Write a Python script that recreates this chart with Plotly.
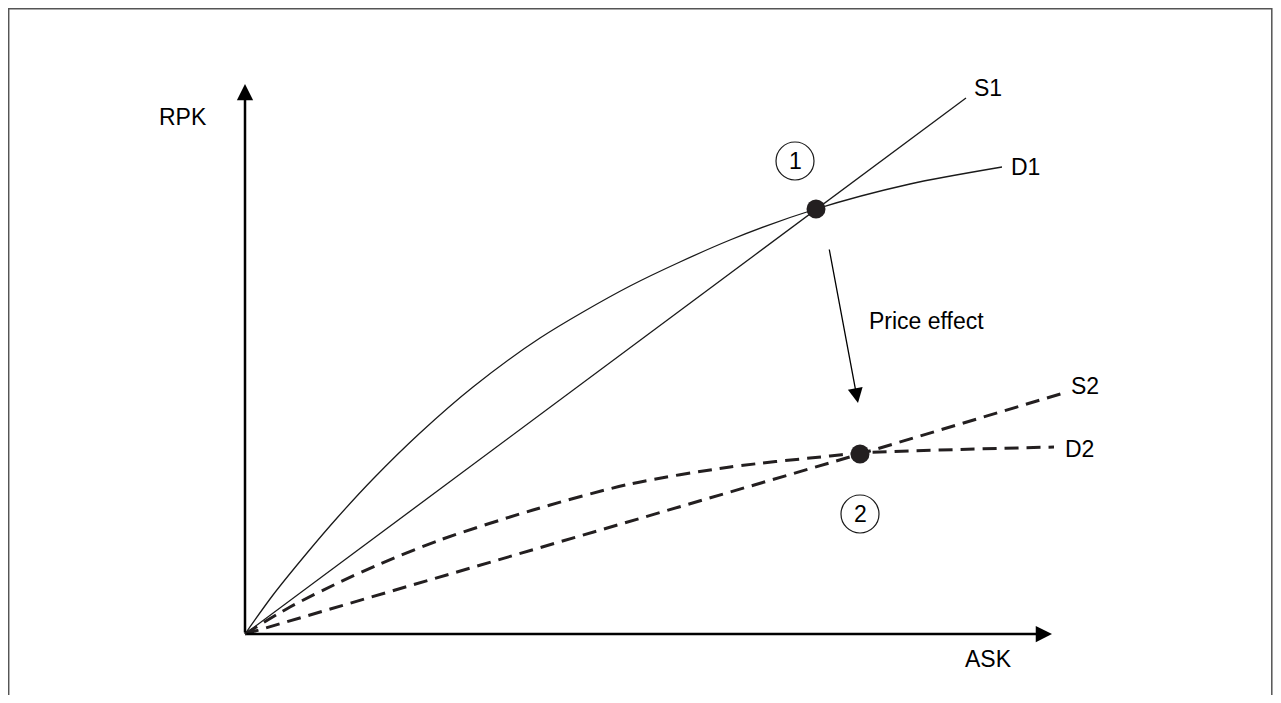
import plotly.graph_objects as go

# ---- data (ASK on x, RPK on y; arbitrary units, origin at 0,0) ----
ask_d1 = [0, 28, 62, 92, 128, 175, 228, 295, 385, 485, 571, 665, 757]
rpk_d1 = [0, 39, 81, 116, 155, 201, 247, 296, 348, 394, 425, 450, 467]

ask_s1 = [0, 571, 721]
rpk_s1 = [0, 425, 536]

ask_d2 = [0, 45, 95, 135, 195, 288, 385, 485, 585, 615, 809]
rpk_d2 = [0, 27, 52, 70, 94, 124, 150, 167, 178, 181, 187]

ask_s2 = [0, 615, 822]
rpk_s2 = [0, 180, 242]

eq_ask = [571, 615]
eq_rpk = [425, 180]

axis_x_max = 807
axis_y_max = 550

font = "Liberation Sans, Arial, sans-serif"
ink = "#1a1a1a"

fig = go.Figure()

fig.add_trace(go.Scatter(x=ask_d1, y=rpk_d1, mode="lines", line=dict(color=ink, width=1.3, shape="spline", smoothing=0.8), hoverinfo="skip"))
fig.add_trace(go.Scatter(x=ask_s1, y=rpk_s1, mode="lines", line=dict(color=ink, width=1.3), hoverinfo="skip"))
fig.add_trace(go.Scatter(x=ask_d2, y=rpk_d2, mode="lines", line=dict(color="#231f20", width=3, dash="14px,8px", shape="spline", smoothing=0.8), hoverinfo="skip"))
fig.add_trace(go.Scatter(x=ask_s2, y=rpk_s2, mode="lines", line=dict(color="#231f20", width=3, dash="14px,8px"), hoverinfo="skip"))
fig.add_trace(go.Scatter(x=eq_ask, y=eq_rpk, mode="markers", marker=dict(color="#231f20", size=19, line=dict(width=0)), hoverinfo="skip"))

shapes = []
# outer frame
shapes.append(dict(type="paper" if False else "rect", xref="x", yref="y", x0=-236.3, x1=1026.8, y0=625.3, y1=-90,
                   line=dict(color="#555555", width=1.5), fillcolor="rgba(0,0,0,0)", layer="below"))
# circled labels
for cx, cy in [(550, 473), (615, 120)]:
    shapes.append(dict(type="circle", xref="x", yref="y", x0=cx - 19, x1=cx + 19, y0=cy - 19, y1=cy + 19,
                       line=dict(color=ink, width=1.2)))

annotations = []
# axes with arrow heads
annotations.append(dict(x=0, y=axis_y_max, ax=0, ay=0, xref="x", yref="y", axref="x", ayref="y",
                        text="", showarrow=True, arrowhead=2, arrowsize=1.3, arrowwidth=2.5, arrowcolor="#000"))
annotations.append(dict(x=axis_x_max, y=0, ax=0, ay=0, xref="x", yref="y", axref="x", ayref="y",
                        text="", showarrow=True, arrowhead=2, arrowsize=1.3, arrowwidth=2.5, arrowcolor="#000"))
# price effect arrow
annotations.append(dict(x=613, y=231, ax=584, ay=386, xref="x", yref="y", axref="x", ayref="y",
                        text="", showarrow=True, arrowhead=2, arrowsize=2.3, arrowwidth=1.3, arrowcolor="#000"))

def label(x, y, t, size=23, anchor="center"):
    annotations.append(dict(x=x, y=y, xref="x", yref="y", text=t, showarrow=False, xanchor=anchor,
                            yanchor="middle", font=dict(family=font, size=size, color="#000")))

label(-62, 517, "RPK")
label(743, -25, "ASK")
label(743, 546, "S1")
label(780, 467, "D1")
label(840, 248, "S2")
label(834, 185, "D2")
label(622, 313, "Price effect", 23, "left")
label(550, 473, "1")
label(615, 120, "2")

# the page adds an 8px body margin, so the figure starts at page (8, 8)
fig.update_layout(
    width=1265, height=687,
    margin=dict(l=0, r=0, t=0, b=0),
    paper_bgcolor="white", plot_bgcolor="white",
    showlegend=False,
    xaxis=dict(range=[-237, 1028], visible=False, fixedrange=True),
    yaxis=dict(range=[-61, 626], visible=False, fixedrange=True),
    shapes=shapes, annotations=annotations,
)

fig.write_html("out.html")
